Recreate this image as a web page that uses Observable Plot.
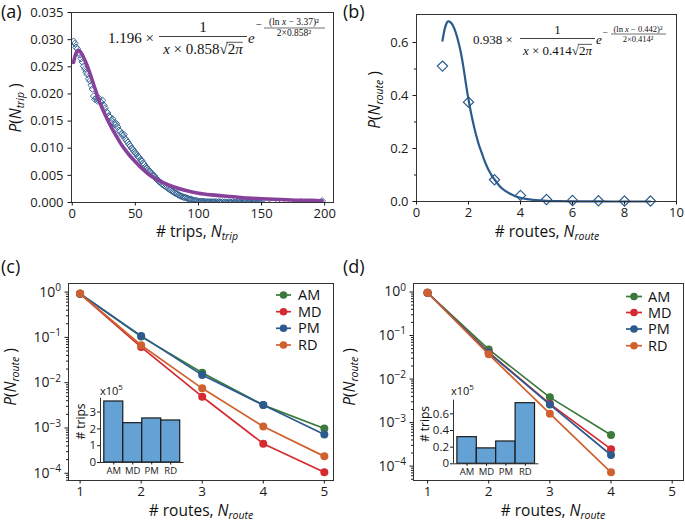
<!DOCTYPE html>
<html><head><meta charset="utf-8">
<script src="https://cdn.jsdelivr.net/npm/d3@7"></script>
<script src="https://cdn.jsdelivr.net/npm/@observablehq/plot@0.6"></script>
<style>
body{margin:0;background:#fff}
#fig{position:relative;width:685px;height:525px;background:#fff;overflow:hidden}
</style></head><body><div id="fig"></div>
<script>
// ---------- data ----------
// (a) P(N_trip) for N_trip = 1..150
const tripP = [
0.0297,0.0293,0.0286,0.0283,0.0276,0.0272,0.0265,0.0259,0.0251,0.0246,
0.0240,0.0236,0.0228,0.0224,0.0216,0.0209,0.0196,0.0190,0.0193,0.0187,
0.0192,0.0186,0.0184,0.0188,0.0179,0.0174,0.0167,0.0165,0.0159,0.0157,
0.0151,0.0154,0.0147,0.0143,0.0145,0.0139,0.0133,0.0131,0.0127,0.0123,
0.0125,0.0118,0.0114,0.0111,0.0107,0.0104,0.0100,0.0098,0.0094,0.0091,
0.0089,0.0085,0.0083,0.0079,0.0077,0.0073,0.0070,0.0066,0.0064,0.0061,
0.0058,0.0056,0.0053,0.0050,0.0049,0.0045,0.0043,0.0041,0.0038,0.0037,
0.0034,0.0033,0.0031,0.0029,0.0028,0.0026,0.0024,0.0023,0.0021,0.0020,
0.0018,0.0017,0.0016,0.0014,0.0013,0.0012,0.0011,0.0010,0.0009,0.0009,
0.0008,0.0007,0.0006,0.0006,0.0005,0.0004,0.0004,0.0003,0.0003,0.0002,
0.0002,0.0002,0.0002,0.0001,0.0002,0.0001,0.0001,0.0001,0.0001,0.0001,
0.0001,0.0001,0.0001,0.0001,0.0000,0.0001,0.0001,0.0000,0.0001,0.0000,
0.0001,0.0000,0.0000,0.0001,0.0000,0.0000,0.0001,0.0000,0.0000,0.0000,
0.0000,0.0001,0.0000,0.0000,0.0000,0.0000,0.0001,0.0000,0.0000,0.0000,
0.0000,0.0000,0.0000,0.0000,0.0001,0.0000,0.0000,0.0000,0.0000,0.0000];
const tripTailN = [154,159,166,173,181,188,198];
const tripTailP = [0,0.0001,0,0,0.0001,0,0.0003];
// (a) lognormal fit curve
const fitTripN = [1,2,3,4,5,6,7,8,10,12,14,16,18,20,22,25,28,30,33,36,40,45,50,55,60,65,70,80,90,100,110,120,130,140,150,160,170,180,190,198];
const fitTripP = [0.0258,0.0268,0.0275,0.0279,0.0280,0.0279,0.0276,0.0272,0.0262,0.0251,0.0238,0.0224,0.0210,0.0196,0.0183,0.0167,0.0152,0.0143,0.0130,0.0118,0.0103,0.0088,0.0075,0.0063,0.0053,0.0045,0.0039,0.0029,0.0022,0.0017,0.0014,0.0012,0.0010,0.0008,0.0007,0.0006,0.0005,0.0004,0.0004,0.0003];
// (b) P(N_route)
const routeN = [1,2,3,4,5,6,7,8,9];
const routeP = [0.511,0.375,0.082,0.023,0.0075,0.004,0.003,0.002,0.002];
const fitRouteN = [1.0,1.05,1.1,1.15,1.2,1.25,1.3,1.4,1.5,1.6,1.7,1.8,1.9,2.0,2.1,2.2,2.3,2.4,2.5,2.6,2.7,2.8,2.9,3.0,3.2,3.4,3.6,3.8,4.0,4.25,4.5,5.0,5.5,6.0,7.0,8.0,9.0];
const fitRouteP = [0.607,0.635,0.657,0.671,0.679,0.680,0.677,0.664,0.640,0.607,0.565,0.510,0.445,0.385,0.333,0.288,0.248,0.214,0.186,0.158,0.134,0.114,0.097,0.083,0.058,0.041,0.029,0.020,0.014,0.009,0.006,0.0025,0.0011,0.0005,0.0001,0.00003,0.00001];
// (c) and (d)
const periods = ["AM","MD","PM","RD"];
const periodColors = ["#3a7a3d","#d42a30","#2c5a8f","#cf612f"];
const routesC = [1,2,3,4,5];
const cAM = [0.92,0.104,0.0166,0.0032,0.00097];
const cMD = [0.92,0.061,0.0049,0.00045,0.000105];
const cPM = [0.92,0.108,0.0147,0.0032,0.00072];
const cRD = [0.93,0.067,0.0075,0.00108,0.000236];
const routesD = [1,2,3,4];
const dAM = [0.96,0.048,0.0038,0.00052];
const dMD = [0.96,0.041,0.0027,0.000245];
const dPM = [0.96,0.040,0.0026,0.00018];
const dRD = [0.96,0.037,0.0016,0.000072];
// insets: # trips (x10^5)
const tripsC = [3.63,2.34,2.62,2.50];
const tripsD = [0.320,0.185,0.268,0.728];
// tick labels
const ticksA_x = [0,50,100,150,200];
const ticksA_y = [0,0.005,0.010,0.015,0.020,0.025,0.030,0.035];
const ticksB_x = [0,2,4,6,8,10];
const ticksB_y = [0,0.2,0.4,0.6];
const ticksB_yMinor = [0.1,0.3,0.5];
const ticksLog = [1,0.1,0.01,0.001,0.0001];
const ticksCD_x = [1,2,3,4,5];
const ticksInsetC = [0,1,2,3];
const ticksInsetD = [0,0.2,0.4,0.6];

// ---------- helpers ----------
const fig = document.getElementById("fig");
const BLUE = "#2b5b8c", PURPLE = "#87409c", BAR = "#64a2d6";
const SANS = "'Open Sans', sans-serif";
const SERIF = "'Liberation Serif', 'DejaVu Serif', serif";
const baseStyle = {fontFamily: SANS, fontSize: "13px", background: "transparent", color: "#1a1a1a", overflow: "visible"};
function place(svg, left, top) {
  d3.select(svg).selectAll("text").each(function() { if (this.textContent === "") this.remove(); });
  svg.style.position = "absolute"; svg.style.left = left + "px"; svg.style.top = top + "px";
  fig.appendChild(svg); return svg;
}
function supLabels(svg) {
  d3.select(svg).selectAll("text").each(function() {
    const m = /^10\^(.+)$/.exec(this.textContent);
    if (m) {
      const t = d3.select(this); t.text(null);
      t.append("tspan").text("10");
      t.append("tspan").attr("dy", "-0.55em").attr("font-size", "0.72em").text(m[1]);
    }
  });
}
const minorLog = [];
for (let k = -5; k <= 0; k++) for (let m = 2; m <= 9; m++) minorLog.push(m * Math.pow(10, k));
const logFmt = d => "10^" + (Math.round(Math.log10(d)) === 0 ? "0" : "\u2212" + Math.abs(Math.round(Math.log10(d))));

// ---------- (a) ----------
const tripData = tripP.map((p, i) => ({n: i + 1, p})).concat(tripTailN.map((n, i) => ({n, p: tripTailP[i]})));
const fitA = fitTripN.map((n, i) => ({n, p: fitTripP[i]}));
place(Plot.plot({
  width: 340, height: 240, marginLeft: 71, marginRight: 7, marginTop: 12, marginBottom: 38,
  style: baseStyle,
  x: {domain: [-0.6, 207]}, y: {domain: [0, 0.035]},
  marks: [
    Plot.dot(tripData, {x: "n", y: "p", symbol: "diamond2", r: 3, stroke: BLUE, strokeWidth: 0.9, fill: "none", clip: true}),
    Plot.line(fitA, {x: "n", y: "p", stroke: PURPLE, strokeWidth: 3.6, curve: "monotone-x"}),
    Plot.frame({stroke: "#333"}),
    Plot.axisX({ticks: ticksA_x, tickSize: 3.5, tickPadding: 3, fontSize: 13, tickFormat: d3.format("d"), label: null}),
    Plot.axisY({ticks: ticksA_y, tickSize: 3.5, tickPadding: 4.5, fontSize: 13, tickFormat: d3.format(".3f"), label: null})
  ]
}), 0, 0);

// ---------- (b) ----------
const routeData = routeN.map((n, i) => ({n, p: routeP[i]}));
const fitB = fitRouteN.map((n, i) => ({n, p: fitRouteP[i]}));
place(Plot.plot({
  width: 345, height: 240, marginLeft: 76, marginRight: 9, marginTop: 14, marginBottom: 39,
  style: baseStyle,
  x: {domain: [0, 10]}, y: {domain: [0, 0.7057]},
  marks: [
    Plot.line(fitB, {x: "n", y: "p", stroke: BLUE, strokeWidth: 2.2, curve: "monotone-x"}),
    Plot.dot(routeData, {x: "n", y: "p", symbol: "diamond2", r: 4.6, stroke: BLUE, strokeWidth: 1.2, fill: "none"}),
    Plot.frame({stroke: "#333"}),
    Plot.axisX({ticks: ticksB_x, tickSize: 3.5, tickPadding: 3, fontSize: 13, tickFormat: d3.format("d"), label: null}),
    Plot.axisY({ticks: ticksB_y, tickSize: 3.5, tickPadding: 4.5, fontSize: 13, tickFormat: d3.format(".1f"), label: null}),
    Plot.axisY({ticks: ticksB_yMinor, tickSize: 2, tickFormat: () => "", label: null})
  ]
}), 340, 0);

// ---------- (c) & (d) ----------
function logPanel(routes, series, xDomain, yDomain, opts) {
  const rows = [];
  periods.forEach((k, j) => routes.forEach((r, i) => rows.push({period: k, r, p: series[j][i]})));
  const marks = [];
  periods.forEach((k, j) => {
    const sub = rows.filter(d => d.period === k);
    marks.push(Plot.line(sub, {x: "r", y: "p", stroke: periodColors[j], strokeWidth: 1.7}));
    marks.push(Plot.dot(sub, {x: "r", y: "p", fill: periodColors[j], r: 4}));
  });
  marks.push(Plot.frame({stroke: "#333"}));
  marks.push(Plot.axisX({ticks: ticksCD_x, tickSize: 3.5, tickPadding: 2.5, fontSize: 13.5, tickFormat: d3.format("d"), label: null}));
  marks.push(Plot.axisY({ticks: ticksLog, tickSize: 3.5, tickPadding: 4, fontSize: 14, tickFormat: logFmt, label: null}));
  marks.push(Plot.axisY({ticks: minorLog.filter(v => v >= yDomain[0] && v <= yDomain[1]), tickSize: 2, tickFormat: () => "", label: null}));
  const svg = Plot.plot(Object.assign({
    style: baseStyle,
    x: {domain: xDomain}, y: {type: "log", domain: yDomain},
    marks
  }, opts));
  supLabels(svg);
  return svg;
}
place(logPanel(routesC, [cAM, cMD, cPM, cRD], [0.81, 5.15], [Math.pow(10, -4.16), Math.pow(10, 0.19)],
  {width: 340, height: 275, marginLeft: 68, marginRight: 7, marginTop: 33, marginBottom: 45}), 0, 250);
place(logPanel(routesD, [dAM, dMD, dPM, dRD], [0.77, 5.185], [Math.pow(10, -4.33), Math.pow(10, 0.195)],
  {width: 345, height: 275, marginLeft: 73, marginRight: 2, marginTop: 33, marginBottom: 45}), 340, 250);

// ---------- insets ----------
function inset(vals, ymax, yt, ytf, o) {
  const bars = periods.map((k, i) => ({i, v: vals[i]}));
  return Plot.plot({
    width: o.w, height: o.h, marginLeft: o.mL, marginRight: o.mR, marginTop: o.mT, marginBottom: o.mB,
    style: baseStyle,
    x: {domain: [-0.7, 3.7]}, y: {domain: [0, ymax]},
    marks: [
      Plot.rectY(bars, {x1: d => d.i - 0.5, x2: d => d.i + 0.5, y: "v", fill: BAR, stroke: "#1a1a1a", strokeWidth: 1.2}),
      Plot.ruleY([0], {stroke: "#333"}),
      Plot.ruleX([-0.7], {stroke: "#333"}),
      Plot.axisX({ticks: [0, 1, 2, 3], tickFormat: i => periods[i], tickSize: 2.5, tickPadding: 2, fontSize: 9.5, label: null}),
      Plot.axisY({ticks: yt, tickFormat: ytf, tickSize: 3, tickPadding: 1.5, fontSize: 11.5, label: null})
    ]
  });
}
place(inset(tripsC, 3.82, ticksInsetC, d => String(d), {w: 120, h: 95, mL: 30, mR: 6.5, mT: 12.8, mB: 18}), 70, 385);
place(inset(tripsD, 0.765, ticksInsetD, d => d === 0 ? "0" : d.toFixed(1), {w: 125, h: 95, mL: 33, mR: 6.6, mT: 14.6, mB: 16.7}), 420, 385);

// ---------- overlay text ----------
const ov = d3.select(fig).append("svg").attr("width", 685).attr("height", 525)
  .style("position", "absolute").style("left", "0px").style("top", "0px").style("pointer-events", "none");
function T(x, y, html, o = {}) {
  const t = ov.append("text").attr("x", x).attr("y", y)
    .attr("font-size", o.size || 15.5).attr("font-family", o.font || SANS)
    .attr("text-anchor", o.anchor || "start").attr("fill", "#111").html(html);
  if (o.rotate) t.attr("transform", `rotate(${o.rotate},${x},${y})`);
  if (o.italic) t.attr("font-style", "italic");
  return t;
}
function L(x1, x2, y, w = 0.8) {
  ov.append("line").attr("x1", x1).attr("x2", x2).attr("y1", y).attr("y2", y).attr("stroke", "#111").attr("stroke-width", w);
}
const I = s => `<tspan font-style="italic">${s}</tspan>`;
const PN = sub => `${I("P")}(${I("N")}<tspan font-style="italic" font-size="10.5" dy="3">${sub}</tspan><tspan dy="-3"> )</tspan>`;
const XN = (pre, sub) => `${pre}${I("N")}<tspan font-style="italic" font-size="10.5" dy="3">${sub}</tspan>`;

// panel letters
T(1, 17.5, "(a)", {size: 18}); T(343, 17.5, "(b)", {size: 18});
T(1, 272.5, "(c)", {size: 18}); T(343, 272.5, "(d)", {size: 18});
// axis titles
T(21, 108, PN("trip"), {rotate: -90, anchor: "middle"});
T(197, 237, XN("# trips, ", "trip"), {anchor: "middle"});
T(380, 100, PN("route"), {rotate: -90, anchor: "middle"});
T(547, 237, XN("# routes, ", "route"), {anchor: "middle"});
T(16, 377, PN("route"), {rotate: -90, anchor: "middle"});
T(201, 516, XN("# routes, ", "route"), {anchor: "middle"});
T(355, 377, PN("route"), {rotate: -90, anchor: "middle"});
T(553, 516, XN("# routes, ", "route"), {anchor: "middle"});

// formulas
function sqrtBar(t, size) {
  const node = t.node(); const s = node.textContent; const idx = s.indexOf("\u221A");
  if (idx < 0) return;
  try {
    const x2 = node.getEndPositionOfChar(s.length - 1).x;
    const y = node.getStartPositionOfChar(idx + 1).y - size * 0.78;
    ov.append("line").attr("x1", node.getStartPositionOfChar(idx).x + size * 0.45).attr("x2", x2).attr("y1", y).attr("y2", y).attr("stroke", "#111").attr("stroke-width", 0.7);
  } catch (e) {}
}
function formula(o) {
  const s = o.size;
  T(o.x0, o.base, `${o.coef} ×`, {font: SERIF, size: s});
  T(o.cx, o.numBase, "1", {font: SERIF, size: s, anchor: "middle"});
  L(o.barL, o.barR, o.barY);
  sqrtBar(T(o.cx, o.denBase, `${I("x")} × ${o.sd}\u221A2${I("π")}`, {font: SERIF, size: s, anchor: "middle"}), s);
  T(o.eX, o.base, I("e"), {font: SERIF, size: s});
  T(o.mX, o.mBase, "\u2212", {font: SERIF, size: o.es + 1});
  T(o.ecx, o.enBase, `(ln ${I("x")} \u2212 ${o.mu})²`, {font: SERIF, size: o.es, anchor: "middle"});
  L(o.ebL, o.ebR, o.ebY, 0.6);
  T(o.ecx, o.edBase, `2×${o.sd}²`, {font: SERIF, size: o.es, anchor: "middle"});
}
formula({size: 15, x0: 108, base: 42.5, coef: "1.196", cx: 203, numBase: 32, barL: 159, barR: 247, barY: 36.5,
  denBase: 54, sd: "0.858", eX: 248, mX: 256, mBase: 28, es: 9.5, ecx: 294, enBase: 24.5, ebL: 264, ebR: 325, ebY: 28, edBase: 36, mu: "3.37"});
formula({size: 13, x0: 473, base: 43.5, coef: "0.938", cx: 557.5, numBase: 34, barL: 520, barR: 595, barY: 38.5,
  denBase: 54.5, sd: "0.414", eX: 596, mX: 602.5, mBase: 35.5, es: 8.5, ecx: 638, enBase: 31.5, ebL: 611, ebR: 666, ebY: 34, edBase: 42, mu: "0.442"});

// legends
function legend(x1, x2, tx, ys) {
  periods.forEach((k, j) => {
    ov.append("line").attr("x1", x1).attr("x2", x2).attr("y1", ys[j]).attr("y2", ys[j]).attr("stroke", periodColors[j]).attr("stroke-width", 1.7);
    ov.append("circle").attr("cx", (x1 + x2) / 2).attr("cy", ys[j]).attr("r", 3.8).attr("fill", periodColors[j]);
    T(tx, ys[j] + 5, k, {size: 14.5});
  });
}
legend(276, 291, 298, [295, 311.7, 328.3, 345]);
legend(626, 642, 648, [296.5, 312.5, 329, 345.7]);

// inset titles
T(85, 421.5, "# trips", {rotate: -90, anchor: "middle", size: 12});
T(100, 395, `x10<tspan dy="-5" font-size="8">5</tspan>`, {size: 11});
T(428.5, 424, "# trips", {rotate: -90, anchor: "middle", size: 12});
T(451, 395, `x10<tspan dy="-5" font-size="8">5</tspan>`, {size: 11});
</script></body></html>
